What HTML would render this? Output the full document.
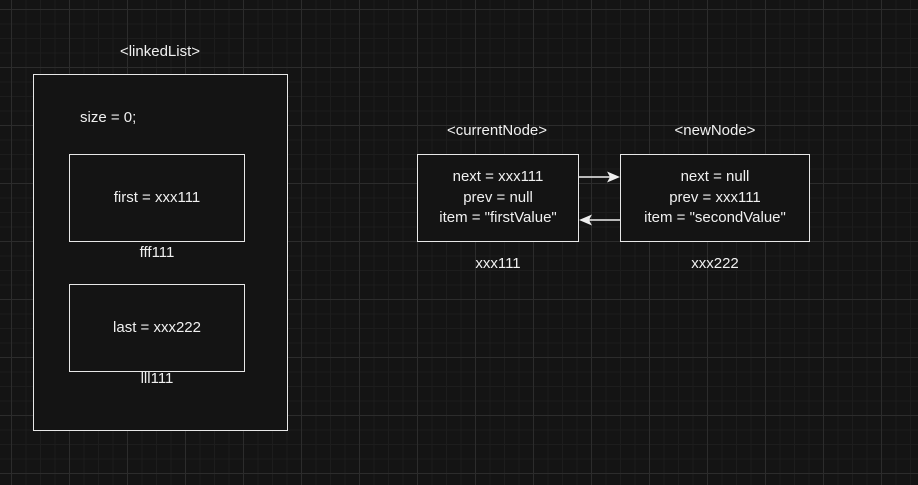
<!DOCTYPE html>
<html><head><style>
html,body{margin:0;padding:0}
body{width:918px;height:485px;overflow:hidden;background:#141414;position:relative;font-family:"Liberation Sans",sans-serif;color:#f0f0f0;font-size:15px}
.grid{position:absolute;inset:0;
background-image:
linear-gradient(to right,#2c2c2c 1px,transparent 1px),
linear-gradient(to bottom,#2c2c2c 1px,transparent 1px),
linear-gradient(to right,#1d1d1d 1px,transparent 1px),
linear-gradient(to bottom,#1d1d1d 1px,transparent 1px);
background-size:58px 58px,58px 58px,14.5px 14.5px,14.5px 14.5px;
background-position:11px 9px,11px 9px,11px 9px,11px 9px}
.b{position:absolute;border:1.5px solid #e8e8e8;box-sizing:border-box;background:#141414}
.t{position:absolute;white-space:nowrap;text-align:center;line-height:20.5px}
</style></head><body>
<div class="grid"></div>
<div class="b" style="left:33px;top:74px;width:255px;height:357px"></div>
<div class="b" style="left:69px;top:154px;width:176px;height:88px"></div>
<div class="b" style="left:69px;top:284px;width:176px;height:88px"></div>
<div class="b" style="left:417px;top:154px;width:162px;height:88px"></div>
<div class="b" style="left:620px;top:154px;width:190px;height:88px"></div>
<div class="t" style="left:60px;top:42px;width:200px">&lt;linkedList&gt;</div>
<div class="t" style="left:80px;top:108px">size = 0;</div>
<div class="t" style="left:69px;top:188px;width:176px">first = xxx111</div>
<div class="t" style="left:69px;top:243px;width:176px">fff111</div>
<div class="t" style="left:69px;top:318px;width:176px">last = xxx222</div>
<div class="t" style="left:69px;top:369px;width:176px">lll111</div>
<div class="t" style="left:397px;top:121px;width:200px">&lt;currentNode&gt;</div>
<div class="t" style="left:615px;top:121px;width:200px">&lt;newNode&gt;</div>
<div class="t" style="left:417px;top:167px;width:162px">next = xxx111<br>prev = null<br>item = "firstValue"</div>
<div class="t" style="left:620px;top:167px;width:190px">next = null<br>prev = xxx111<br>item = "secondValue"</div>
<div class="t" style="left:417px;top:254px;width:162px">xxx111</div>
<div class="t" style="left:620px;top:254px;width:190px">xxx222</div>
<svg style="position:absolute;left:0;top:0" width="918" height="485">
<line x1="579" y1="177" x2="612" y2="177" stroke="#eee" stroke-width="1.5"/>
<path d="M620,177 L607,171.5 L610,177 L607,182.5 Z" fill="#eee"/>
<line x1="620" y1="220" x2="587" y2="220" stroke="#eee" stroke-width="1.5"/>
<path d="M579,220 L592,214.5 L589,220 L592,225.5 Z" fill="#eee"/>
</svg>
</body></html>
